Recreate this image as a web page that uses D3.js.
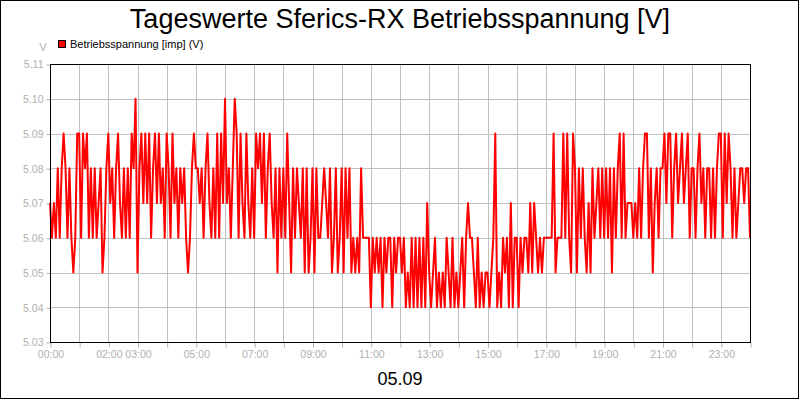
<!DOCTYPE html>
<html>
<head>
<meta charset="utf-8">
<script src="https://cdn.jsdelivr.net/npm/d3@7"></script>
<style>
  body { margin: 0; background: #fff; }
  text { font-family: "Liberation Sans", Arial, sans-serif; }
</style>
</head>
<body>
<div id="chart"></div>
<script>
// readings every 4 minutes, one row per hour (00:00 .. 23:00), last value at 24:00
const voltage = [
  5.07,5.06,5.07,5.06,5.08,5.06,5.08,5.09,5.08,5.06,5.08,5.06,5.05,5.06,5.09,
  5.09,5.06,5.09,5.08,5.09,5.06,5.08,5.06,5.08,5.06,5.07,5.08,5.05,5.06,5.08,
  5.09,5.07,5.08,5.06,5.08,5.09,5.07,5.06,5.08,5.06,5.08,5.06,5.09,5.08,5.10,
  5.05,5.08,5.09,5.07,5.09,5.07,5.09,5.06,5.08,5.09,5.07,5.09,5.07,5.08,5.06,
  5.09,5.08,5.06,5.09,5.07,5.08,5.06,5.08,5.07,5.08,5.06,5.05,5.06,5.08,5.09,
  5.08,5.08,5.07,5.08,5.06,5.08,5.09,5.07,5.06,5.08,5.06,5.09,5.06,5.09,5.07,
  5.10,5.07,5.08,5.06,5.08,5.10,5.09,5.06,5.09,5.07,5.06,5.09,5.07,5.06,5.08,
  5.06,5.09,5.08,5.09,5.07,5.09,5.06,5.08,5.09,5.07,5.06,5.08,5.05,5.08,5.06,
  5.08,5.06,5.09,5.07,5.05,5.08,5.06,5.08,5.07,5.06,5.08,5.05,5.08,5.05,5.06,
  5.08,5.05,5.08,5.06,5.06,5.07,5.08,5.07,5.06,5.08,5.05,5.06,5.08,5.05,5.06,
  5.08,5.05,5.08,5.06,5.08,5.05,5.06,5.05,5.06,5.05,5.08,5.06,5.06,5.06,5.06,
  5.04,5.06,5.05,5.06,5.05,5.06,5.04,5.06,5.05,5.06,5.06,5.04,5.06,5.05,5.06,
  5.06,5.05,5.06,5.04,5.05,5.04,5.06,5.04,5.06,5.04,5.06,5.04,5.06,5.04,5.07,
  5.05,5.04,5.05,5.06,5.04,5.05,5.04,5.05,5.04,5.06,5.05,5.04,5.06,5.04,5.05,
  5.04,5.05,5.06,5.04,5.06,5.07,5.06,5.06,5.05,5.04,5.06,5.04,5.05,5.04,5.05,
  5.05,5.04,5.05,5.06,5.09,5.04,5.05,5.04,5.06,5.05,5.06,5.04,5.07,5.04,5.06,
  5.06,5.04,5.06,5.05,5.06,5.06,5.05,5.07,5.05,5.07,5.06,5.05,5.06,5.05,5.06,
  5.06,5.06,5.06,5.06,5.09,5.05,5.06,5.06,5.06,5.09,5.06,5.09,5.06,5.05,5.09,
  5.08,5.05,5.08,5.06,5.08,5.06,5.05,5.07,5.05,5.08,5.06,5.07,5.08,5.06,5.08,
  5.06,5.08,5.06,5.08,5.05,5.08,5.06,5.08,5.09,5.06,5.09,5.06,5.07,5.07,5.07,
  5.06,5.07,5.06,5.08,5.06,5.08,5.09,5.09,5.06,5.08,5.05,5.07,5.08,5.06,5.08,
  5.08,5.09,5.07,5.09,5.09,5.06,5.08,5.09,5.07,5.08,5.09,5.07,5.08,5.09,5.06,
  5.08,5.08,5.06,5.08,5.09,5.07,5.08,5.06,5.08,5.08,5.06,5.08,5.06,5.08,5.09,
  5.09,5.06,5.09,5.07,5.09,5.08,5.06,5.08,5.06,5.07,5.08,5.08,5.07,5.08,5.08,
  5.06
];
const stepMinutes = 4;

const yTicks = [5.03, 5.04, 5.05, 5.06, 5.07, 5.08, 5.09, 5.10, 5.11];
const hourTicks = d3.range(0, 25);          // grid every hour
const labelledHours = [0, 2, 3, 5, 7, 9, 11, 13, 15, 17, 19, 21, 23];

const titleText = "Tageswerte Sferics-RX Betriebsspannung [V]";
const seriesName = "Betriebsspannung [imp] (V)";
const dayLabel = "05.09";
const unitLabel = "V";

const width = 800, height = 400;
const margin = {top: 64, right: 50, bottom: 58, left: 50};

const svg = d3.select("#chart").append("svg")
    .attr("width", width)
    .attr("height", height);

svg.append("rect")
    .attr("x", 0.5).attr("y", 0.5)
    .attr("width", width - 2).attr("height", height - 2)
    .attr("fill", "#fff").attr("stroke", "#000");

const x = d3.scaleLinear()
    .domain([0, 24 * 60])
    .range([margin.left, width - margin.right]);

const y = d3.scaleLinear()
    .domain([5.03, 5.11])
    .range([height - margin.bottom, margin.top]);

// grid
svg.append("g").selectAll("line")
    .data(hourTicks)
    .join("line")
    .attr("x1", d => Math.round(x(d * 60)) + 0.5)
    .attr("x2", d => Math.round(x(d * 60)) + 0.5)
    .attr("y1", y(5.11)).attr("y2", y(5.03))
    .attr("stroke", "#c0c0c0");

svg.append("g").selectAll("line")
    .data(yTicks)
    .join("line")
    .attr("x1", x(0)).attr("x2", x(1440))
    .attr("y1", d => Math.round(y(d)) + 0.5)
    .attr("y2", d => Math.round(y(d)) + 0.5)
    .attr("stroke", "#c0c0c0");

// axes
const xAxis = d3.axisBottom(x)
    .tickValues(hourTicks.map(h => h * 60))
    .tickSize(5)
    .tickPadding(3)
    .tickFormat(m => labelledHours.includes(m / 60) ? d3.format("02d")(m / 60) + ":00" : "");

const gx = svg.append("g")
    .attr("transform", `translate(0.5,${Math.round(y(5.03)) + 0.5})`)
    .call(xAxis);
gx.select(".domain").remove();
gx.selectAll("line").attr("stroke", "#b0b0b0");
gx.selectAll("text")
    .attr("fill", "#b0b0b0")
    .style("font-size", "10.5px");

const yAxis = d3.axisLeft(y)
    .tickValues(yTicks)
    .tickSize(4)
    .tickPadding(3)
    .tickFormat(d3.format(".2f"));

const gy = svg.append("g")
    .attr("transform", `translate(${x(0) + 0.5},0.5)`)
    .call(yAxis);
gy.select(".domain").remove();
gy.selectAll("line").attr("stroke", "#b0b0b0");
gy.selectAll("text")
    .attr("fill", "#b0b0b0")
    .style("font-size", "10.5px");

// data line
const line = d3.line()
    .x((d, i) => x(i * stepMinutes))
    .y(d => y(d));

svg.append("path")
    .datum(voltage)
    .attr("d", line)
    .attr("fill", "none")
    .attr("stroke", "#ff0000")
    .attr("stroke-width", 2)
    .attr("stroke-linejoin", "round");

// plot frame
svg.append("rect")
    .attr("x", Math.round(x(0)) + 0.5).attr("y", Math.round(y(5.11)) + 0.5)
    .attr("width", Math.round(x(1440)) - Math.round(x(0)))
    .attr("height", Math.round(y(5.03)) - Math.round(y(5.11)))
    .attr("fill", "none").attr("stroke", "#000");

// title, legend, labels
svg.append("text")
    .attr("x", width / 2).attr("y", 28)
    .attr("text-anchor", "middle")
    .style("font-size", "27px")
    .text(titleText);

svg.append("rect")
    .attr("x", 58.5).attr("y", 40.5)
    .attr("width", 7).attr("height", 7)
    .attr("fill", "#ff0000").attr("stroke", "#000");

svg.append("text")
    .attr("x", 70).attr("y", 48)
    .style("font-size", "11px")
    .text(seriesName);

svg.append("text")
    .attr("x", 43).attr("y", 51)
    .attr("text-anchor", "middle")
    .attr("fill", "#b0b0b0")
    .style("font-size", "11px")
    .text(unitLabel);

svg.append("text")
    .attr("x", 400).attr("y", 385)
    .attr("text-anchor", "middle")
    .style("font-size", "18px")
    .text(dayLabel);
</script>
</body>
</html>
